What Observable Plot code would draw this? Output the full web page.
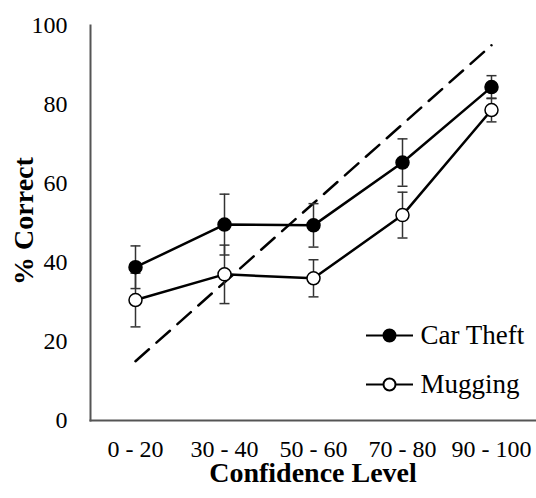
<!DOCTYPE html>
<html>
<head>
<meta charset="utf-8">
<script src="https://cdn.jsdelivr.net/npm/d3@7"></script>
<script src="https://cdn.jsdelivr.net/npm/@observablehq/plot@0.6"></script>
<style>
  html, body { margin: 0; padding: 0; background: #fff; }
</style>
</head>
<body>
<div id="chart"></div>
<script>
const categories = ["0 - 20", "30 - 40", "50 - 60", "70 - 80", "90 - 100"];
const carTheft = [38.8, 49.6, 49.4, 65.3, 84.4];
const carTheftErr = [5.4, 7.7, 5.5, 6.0, 2.9];
const mugging = [30.5, 37.0, 36.0, 52.0, 78.6];
const muggingErr = [6.8, 7.4, 4.7, 5.8, 3.0];
const calibration = [15, 35, 55, 75, 95];
const yTicks = [0, 20, 40, 60, 80, 100];
const seriesNames = ["Car Theft", "Mugging"];

const rows = [];
categories.forEach((c, i) => {
  rows.push({cat: c, series: "Car Theft", v: carTheft[i], e: carTheftErr[i]});
  rows.push({cat: c, series: "Mugging", v: mugging[i], e: muggingErr[i]});
});
const calib = categories.map((c, i) => ({cat: c, v: calibration[i]}));
const car = rows.filter(d => d.series === "Car Theft");
const mug = rows.filter(d => d.series === "Mugging");

const capSymbol = { draw(ctx) { ctx.moveTo(-5, 0); ctx.lineTo(5, 0); } };
const legendSymbol = {
  draw(ctx, size) {
    const r = Math.sqrt(size / Math.PI);
    ctx.moveTo(-23.5, 0); ctx.lineTo(-r, 0);
    ctx.moveTo(r, 0); ctx.lineTo(23.5, 0);
    ctx.moveTo(r, 0); ctx.arc(0, 0, r, 0, 2 * Math.PI);
  }
};

const errColor = "#333";
const chart = Plot.plot({
  width: 536,
  height: 498,
  marginLeft: 90,
  marginRight: 1,
  marginTop: 25,
  marginBottom: 78,
  style: {fontFamily: "'Liberation Serif', 'Times New Roman', serif", background: "#fff", color: "#000"},
  x: {type: "point", domain: categories, padding: 0.5},
  y: {domain: [0, 100]},
  marks: [
    Plot.axisY({ticks: yTicks, tickSize: 0, tickPadding: 23, fontSize: 24, label: null}),
    Plot.axisX({tickSize: 0, tickPadding: 19, fontSize: 24, label: null}),
    Plot.frame({anchor: "left", stroke: "#555", strokeWidth: 2}),
    Plot.frame({anchor: "bottom", stroke: "#555", strokeWidth: 2}),
    Plot.line(calib, {x: "cat", y: "v", stroke: "#000", strokeWidth: 2.5, strokeDasharray: "18,10"}),
    Plot.ruleX(rows, {x: "cat", y1: d => d.v - d.e, y2: d => d.v + d.e, stroke: errColor, strokeWidth: 1.5}),
    Plot.dot(rows, {x: "cat", y: d => d.v + d.e, symbol: capSymbol, stroke: errColor, strokeWidth: 1.5, r: 5}),
    Plot.dot(rows, {x: "cat", y: d => d.v - d.e, symbol: capSymbol, stroke: errColor, strokeWidth: 1.5, r: 5}),
    Plot.line(car, {x: "cat", y: "v", stroke: "#000", strokeWidth: 2.5}),
    Plot.line(mug, {x: "cat", y: "v", stroke: "#000", strokeWidth: 2.5}),
    Plot.dot(car, {x: "cat", y: "v", r: 6.5, fill: "#000", stroke: "#000", strokeWidth: 1.5}),
    Plot.dot(mug, {x: "cat", y: "v", r: 6.5, fill: "#fff", stroke: "#000", strokeWidth: 1.5}),
    // legend
    Plot.dot([seriesNames[0]], {frameAnchor: "bottom-right", dx: -146, dy: -85, symbol: legendSymbol, r: 6, fill: "#000", stroke: "#000", strokeWidth: 2}),
    Plot.dot([seriesNames[1]], {frameAnchor: "bottom-right", dx: -146, dy: -36, symbol: legendSymbol, r: 6, fill: "#fff", stroke: "#000", strokeWidth: 2}),
    Plot.text([seriesNames[0]], {frameAnchor: "bottom-right", text: d => d, dx: -115, dy: -85, textAnchor: "start", lineAnchor: "middle", fontSize: 27, fill: "#000"}),
    Plot.text([seriesNames[1]], {frameAnchor: "bottom-right", text: d => d, dx: -115, dy: -36, textAnchor: "start", lineAnchor: "middle", fontSize: 27, fill: "#000"}),
    // axis titles
    Plot.text(["Confidence Level"], {frameAnchor: "bottom", text: d => d, dy: 53, textAnchor: "middle", lineAnchor: "middle", fontSize: 28, fontWeight: "bold", fill: "#000"}),
    Plot.text(["% Correct"], {frameAnchor: "left", text: d => d, dx: -66, dy: -2, rotate: -90, textAnchor: "middle", lineAnchor: "middle", fontSize: 28, fontWeight: "bold", fill: "#000"})
  ]
});
document.getElementById("chart").append(chart);
</script>
</body>
</html>
